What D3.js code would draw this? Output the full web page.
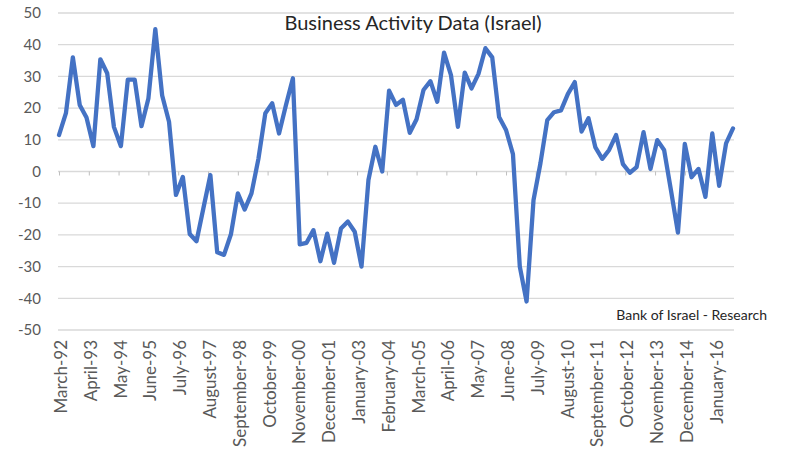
<!DOCTYPE html>
<html>
<head>
<meta charset="utf-8">
<script src="https://cdn.jsdelivr.net/npm/d3@7"></script>
<style>
  body { margin: 0; background: #fff; }
  text { font-family: Lato, "Open Sans", sans-serif; }
</style>
</head>
<body>
<div id="chart"></div>
<script>
// quarterly readings, March-92 through September-16
var firstQuarter = "March-92";
var activity = [
  11.5, 18.4, 36, 21, 17, 8, 35.4, 31, 14, 8,
  29, 29, 14.3, 23, 44.9, 24, 15.7, -7.4, -1.7, -19.7,
  -22, -11.5, -1.1, -25.5, -26.3, -19.8, -6.9, -12, -6.9, 4,
  18.4, 21.5, 12, 21, 29.4, -23, -22.5, -18.5, -28.3, -19.6,
  -28.8, -18, -15.8, -19, -30, -2.7, 7.8, 0, 25.5, 21,
  22.6, 12.2, 16.5, 25.7, 28.5, 22, 37.5, 30.4, 14.1, 31.2,
  26.2, 30.8, 38.9, 36, 17.2, 13.1, 5.5, -30, -41, -9,
  2.6, 16.2, 18.7, 19.3, 24.5, 28.2, 12.6, 16.8, 7.6, 4,
  6.8, 11.5, 2.3, -0.4, 1.4, 12.4, 0.8, 9.9, 6.8, -6,
  -19.3, 8.7, -1.8, 0.8, -8, 12, -4.5, 8.9, 13.6
];
var tickLabels = [
  "March-92", "April-93", "May-94", "June-95", "July-96", "August-97",
  "September-98", "October-99", "November-00", "December-01", "January-03",
  "February-04", "March-05", "April-06", "May-07", "June-08", "July-09",
  "August-10", "September-11", "October-12", "November-13", "December-14",
  "January-16"
];
var yTicks = [50, 40, 30, 20, 10, 0, -10, -20, -30, -40, -50];

var W = 786, H = 454;
var parse = d3.timeParse("%B-%y");
var start = parse(firstQuarter);
var data = activity.map(function (v, i) {
  return { date: d3.timeMonth.offset(start, 3 * i), value: v };
});

var svg = d3.select("#chart").append("svg")
  .attr("width", W).attr("height", H);

var x = d3.scaleTime()
  .domain([start, data[data.length - 1].date])
  .range([59, 733]);
var y = d3.scaleLinear().domain([-50, 50]).range([330, 13]);

// gridlines
svg.append("g").selectAll("line")
  .data(yTicks)
  .enter().append("line")
    .attr("x1", 58).attr("x2", 734)
    .attr("y1", function (d) { return y(d); })
    .attr("y2", function (d) { return y(d); })
    .attr("stroke", "#d9d9d9")
    .attr("stroke-width", 1.3);

// y labels
svg.append("g").selectAll("text")
  .data(yTicks)
  .enter().append("text")
    .attr("x", 41)
    .attr("y", function (d) { return y(d); })
    .attr("dy", "0.35em")
    .attr("text-anchor", "end")
    .attr("fill", "#595959")
    .style("font-size", "15px")
    .text(function (d) { return d; });

// x axis on the zero line
var tickDates = tickLabels.map(function (s) { return parse(s); });
var xAxis = d3.axisBottom(x)
  .tickValues(tickDates)
  .tickSize(4)
  .tickFormat("");
var gx = svg.append("g")
  .attr("transform", "translate(0," + y(0) + ")")
  .call(xAxis);
gx.select(".domain").remove();
gx.selectAll(".tick line").attr("stroke", "#bfbfbf");

// x labels under the plot
svg.append("g").selectAll("text")
  .data(tickLabels)
  .enter().append("text")
    .attr("transform", function (d) {
      return "translate(" + (x(parse(d)) + 2) + ",340) rotate(-90)";
    })
    .attr("dy", "0.35em")
    .attr("text-anchor", "end")
    .attr("fill", "#595959")
    .style("font-size", "17px")
    .text(function (d) { return d; });

// line
var line = d3.line()
  .x(function (d) { return x(d.date); })
  .y(function (d) { return y(d.value); });
svg.append("path")
  .datum(data)
  .attr("d", line)
  .attr("fill", "none")
  .attr("stroke", "#4472c4")
  .attr("stroke-width", 4.3)
  .attr("stroke-linejoin", "round")
  .attr("stroke-linecap", "round");

// title and source
svg.append("text")
  .attr("x", 413).attr("y", 30)
  .attr("text-anchor", "middle")
  .attr("fill", "#262626")
  .style("font-size", "20px")
  .text("Business Activity Data (Israel)");

svg.append("text")
  .attr("x", 767).attr("y", 320)
  .attr("text-anchor", "end")
  .attr("fill", "#262626")
  .style("font-size", "14px")
  .text("Bank of Israel - Research");
</script>
</body>
</html>
